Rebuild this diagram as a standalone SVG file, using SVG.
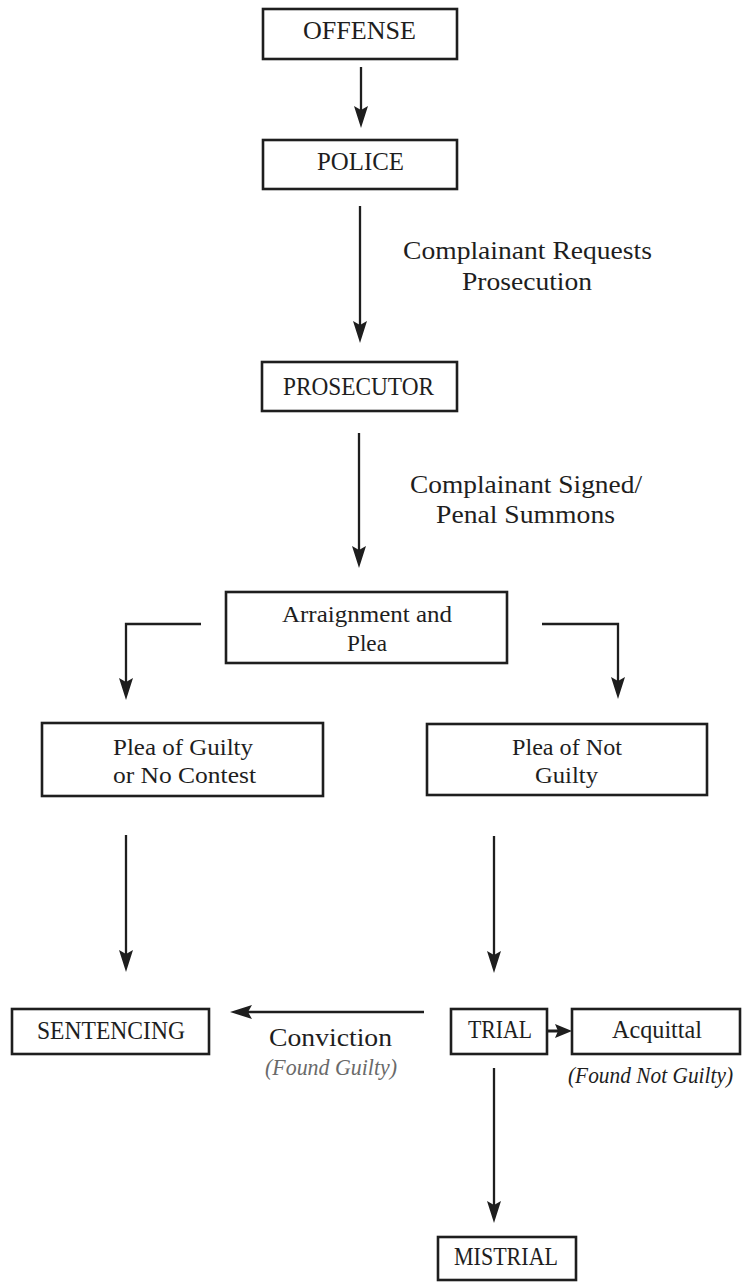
<svg xmlns="http://www.w3.org/2000/svg" width="745" height="1282" viewBox="0 0 745 1282">
  <defs>
    <style>
      .box{fill:#fff;stroke:#1e1e1e;stroke-width:2.6}
      .t{font-family:"Liberation Serif","Times New Roman",serif;fill:#1e1e1e}
      .cap{font-size:25px}
      .lbl{font-size:25px}
      .sm{font-size:24px}
      .it{font-family:"Liberation Serif","Times New Roman",serif;font-style:italic;font-size:23px;fill:#1e1e1e}
      .grey{fill:#6a6a6a}
      #connectors line,#connectors path{stroke:#1e1e1e;stroke-width:2.3;fill:none}
      #connectors .bold{stroke-width:3}
    </style>
    <marker id="head" markerUnits="userSpaceOnUse" markerWidth="24" markerHeight="15" refX="14" refY="7" orient="auto">
      <path d="M0,0 L22,7 L0,14 L4,7 Z" fill="#1e1e1e"/>
    </marker>
    <marker id="headSmall" markerUnits="userSpaceOnUse" markerWidth="18" markerHeight="15" refX="10" refY="7" orient="auto">
      <path d="M0,0 L17,7 L0,14 L3,7 Z" fill="#1e1e1e"/>
    </marker>
  </defs>
  <rect width="745" height="1282" fill="#fff"/>

  <g id="connectors">
    <line x1="361" y1="67" x2="361" y2="120" marker-end="url(#head)"/>
    <line x1="360" y1="206" x2="360" y2="335" marker-end="url(#head)"/>
    <line x1="359" y1="433" x2="359" y2="560" marker-end="url(#head)"/>
    <path d="M201,624 H126 V692" marker-end="url(#head)"/>
    <path d="M542,624 H618 V691" marker-end="url(#head)"/>
    <line x1="126" y1="835" x2="126" y2="964" marker-end="url(#head)"/>
    <line x1="494" y1="836" x2="494" y2="965" marker-end="url(#head)"/>
    <line x1="424" y1="1012" x2="238" y2="1012" marker-end="url(#head)"/>
    <line class="bold" x1="548" y1="1031" x2="565" y2="1031" marker-end="url(#headSmall)"/>
    <line x1="494" y1="1068" x2="494" y2="1215" marker-end="url(#head)"/>
  </g>

  <g id="offense">
    <rect class="box" x="263" y="9" width="194" height="50"/>
    <text class="t cap" x="303" y="39" textLength="113" lengthAdjust="spacingAndGlyphs">OFFENSE</text>
  </g>
  <g id="police">
    <rect class="box" x="263" y="140" width="194" height="49"/>
    <text class="t cap" x="317" y="170" textLength="87" lengthAdjust="spacingAndGlyphs">POLICE</text>
  </g>
  <g id="label-requests">
    <text class="t lbl" x="403" y="259" textLength="249" lengthAdjust="spacingAndGlyphs">Complainant Requests</text>
    <text class="t lbl" x="462" y="290" textLength="130" lengthAdjust="spacingAndGlyphs">Prosecution</text>
  </g>
  <g id="prosecutor">
    <rect class="box" x="262" y="362" width="195" height="49"/>
    <text class="t cap" x="283" y="395" textLength="151" lengthAdjust="spacingAndGlyphs">PROSECUTOR</text>
  </g>
  <g id="label-summons">
    <text class="t lbl" x="410" y="493" textLength="232" lengthAdjust="spacingAndGlyphs">Complainant Signed/</text>
    <text class="t lbl" x="436" y="523" textLength="179" lengthAdjust="spacingAndGlyphs">Penal Summons</text>
  </g>
  <g id="arraignment">
    <rect class="box" x="226" y="592" width="281" height="71"/>
    <text class="t sm" x="282" y="622" textLength="170" lengthAdjust="spacingAndGlyphs">Arraignment and</text>
    <text class="t sm" x="347" y="651" textLength="40" lengthAdjust="spacingAndGlyphs">Plea</text>
  </g>
  <g id="plea-guilty">
    <rect class="box" x="42" y="723" width="281" height="73"/>
    <text class="t sm" x="113" y="755" textLength="140" lengthAdjust="spacingAndGlyphs">Plea of Guilty</text>
    <text class="t sm" x="113" y="783" textLength="143" lengthAdjust="spacingAndGlyphs">or No Contest</text>
  </g>
  <g id="plea-not-guilty">
    <rect class="box" x="427" y="724" width="280" height="71"/>
    <text class="t sm" x="512" y="755" textLength="110" lengthAdjust="spacingAndGlyphs">Plea of Not</text>
    <text class="t sm" x="535" y="783" textLength="63" lengthAdjust="spacingAndGlyphs">Guilty</text>
  </g>
  <g id="sentencing">
    <rect class="box" x="12" y="1009" width="197" height="45"/>
    <text class="t cap" x="37" y="1039" textLength="148" lengthAdjust="spacingAndGlyphs">SENTENCING</text>
  </g>
  <g id="label-conviction">
    <text class="t lbl" x="269" y="1046" textLength="123" lengthAdjust="spacingAndGlyphs">Conviction</text>
    <text class="it grey" x="265" y="1075" textLength="132" lengthAdjust="spacingAndGlyphs">(Found Guilty)</text>
  </g>
  <g id="trial">
    <rect class="box" x="451" y="1009" width="96" height="45"/>
    <text class="t cap" x="468" y="1038" textLength="64" lengthAdjust="spacingAndGlyphs">TRIAL</text>
  </g>
  <g id="acquittal">
    <rect class="box" x="572" y="1009" width="168" height="45"/>
    <text class="t lbl" x="612" y="1038" textLength="90" lengthAdjust="spacingAndGlyphs">Acquittal</text>
    <text class="it" x="568" y="1083" textLength="165" lengthAdjust="spacingAndGlyphs">(Found Not Guilty)</text>
  </g>
  <g id="mistrial">
    <rect class="box" x="438" y="1237" width="138" height="43"/>
    <text class="t cap" x="454" y="1265" textLength="104" lengthAdjust="spacingAndGlyphs">MISTRIAL</text>
  </g>
</svg>
